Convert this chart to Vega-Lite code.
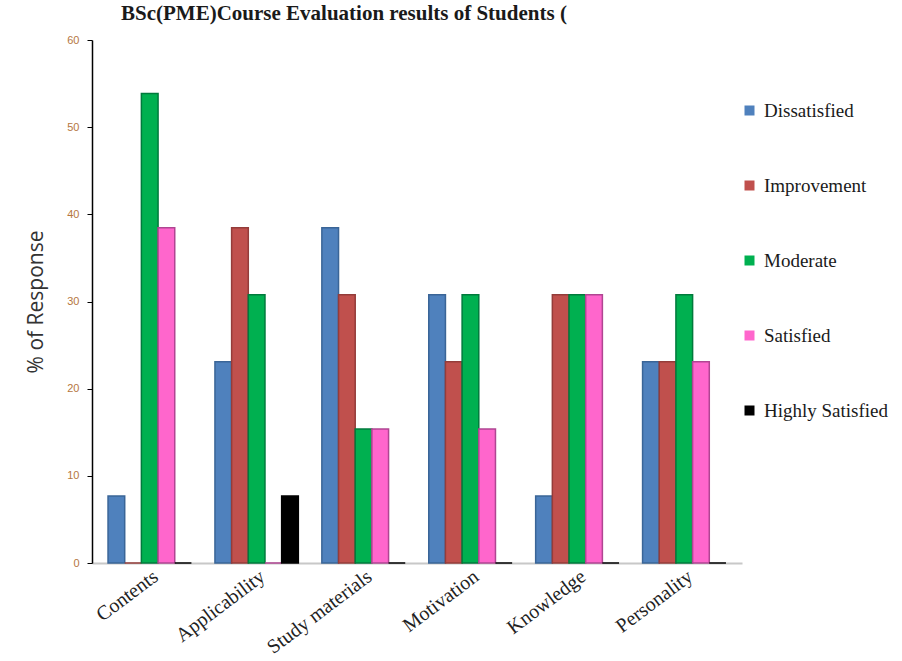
{
  "$schema": "https://vega.github.io/schema/vega-lite/v6.json",
  "width": 650,
  "height": 523,
  "padding": {"left": 25, "top": 3, "right": 5, "bottom": 2},
  "background": "white",
  "title": {
    "text": "BSc(PME)Course Evaluation  results of  Students (",
    "font": "Liberation Serif",
    "fontSize": 21,
    "fontWeight": "bold",
    "color": "#1a1a1a",
    "anchor": "start",
    "frame": "group",
    "dx": 29,
    "offset": 10
  },
  "data": {
    "values": [
      {"aspect": "Contents", "response": "Dissatisfied", "pct": 7.69},
      {"aspect": "Contents", "response": "Improvement", "pct": 0},
      {"aspect": "Contents", "response": "Moderate", "pct": 53.85},
      {"aspect": "Contents", "response": "Satisfied", "pct": 38.46},
      {"aspect": "Contents", "response": "Highly Satisfied", "pct": 0},
      {"aspect": "Applicability", "response": "Dissatisfied", "pct": 23.08},
      {"aspect": "Applicability", "response": "Improvement", "pct": 38.46},
      {"aspect": "Applicability", "response": "Moderate", "pct": 30.77},
      {"aspect": "Applicability", "response": "Satisfied", "pct": 0},
      {"aspect": "Applicability", "response": "Highly Satisfied", "pct": 7.69},
      {"aspect": "Study materials", "response": "Dissatisfied", "pct": 38.46},
      {"aspect": "Study materials", "response": "Improvement", "pct": 30.77},
      {"aspect": "Study materials", "response": "Moderate", "pct": 15.38},
      {"aspect": "Study materials", "response": "Satisfied", "pct": 15.38},
      {"aspect": "Study materials", "response": "Highly Satisfied", "pct": 0},
      {"aspect": "Motivation", "response": "Dissatisfied", "pct": 30.77},
      {"aspect": "Motivation", "response": "Improvement", "pct": 23.08},
      {"aspect": "Motivation", "response": "Moderate", "pct": 30.77},
      {"aspect": "Motivation", "response": "Satisfied", "pct": 15.38},
      {"aspect": "Motivation", "response": "Highly Satisfied", "pct": 0},
      {"aspect": "Knowledge", "response": "Dissatisfied", "pct": 7.69},
      {"aspect": "Knowledge", "response": "Improvement", "pct": 30.77},
      {"aspect": "Knowledge", "response": "Moderate", "pct": 30.77},
      {"aspect": "Knowledge", "response": "Satisfied", "pct": 30.77},
      {"aspect": "Knowledge", "response": "Highly Satisfied", "pct": 0},
      {"aspect": "Personality", "response": "Dissatisfied", "pct": 23.08},
      {"aspect": "Personality", "response": "Improvement", "pct": 23.08},
      {"aspect": "Personality", "response": "Moderate", "pct": 30.77},
      {"aspect": "Personality", "response": "Satisfied", "pct": 23.08},
      {"aspect": "Personality", "response": "Highly Satisfied", "pct": 0}
    ]
  },
  "mark": {"type": "bar", "strokeWidth": 1.5},
  "encoding": {
    "x": {
      "field": "aspect",
      "type": "nominal",
      "sort": ["Contents", "Applicability", "Study materials", "Motivation", "Knowledge", "Personality"],
      "scale": {"paddingInner": 0.22, "paddingOuter": 0.15},
      "axis": {
        "title": null,
        "labelAngle": -37,
        "labelFont": "Liberation Serif",
        "labelFontSize": 20,
        "labelColor": "#222222",
        "labelPadding": 3,
        "ticks": false,
        "domainColor": "#c8c8c8",
        "domainWidth": 2
      }
    },
    "xOffset": {
      "field": "response",
      "type": "nominal",
      "sort": ["Dissatisfied", "Improvement", "Moderate", "Satisfied", "Highly Satisfied"],
      "scale": {"paddingInner": 0}
    },
    "y": {
      "field": "pct",
      "type": "quantitative",
      "scale": {"domain": [0, 60]},
      "axis": {
        "title": "% of Response",
        "titleFont": "Open Sans",
        "titleFontSize": 21,
        "titleFontWeight": "normal",
        "titleColor": "#333333",
        "titlePadding": 20,
        "values": [0, 10, 20, 30, 40, 50, 60],
        "labelFont": "Liberation Sans",
        "labelFontSize": 11,
        "labelColor": "#b5763e",
        "labelPadding": 8,
        "grid": false,
        "domainColor": "#000000",
        "domainWidth": 1.5,
        "tickColor": "#000000",
        "tickSize": 5
      }
    },
    "color": {
      "field": "response",
      "type": "nominal",
      "sort": ["Dissatisfied", "Improvement", "Moderate", "Satisfied", "Highly Satisfied"],
      "scale": {
        "domain": ["Dissatisfied", "Improvement", "Moderate", "Satisfied", "Highly Satisfied"],
        "range": ["#4F81BD", "#C0504D", "#00B050", "#FF66CC", "#000000"]
      },
      "legend": {
        "title": null,
        "orient": "none",
        "legendX": 648,
        "legendY": 61,
        "symbolType": "square",
        "symbolSize": 100,
        "symbolStrokeWidth": 0,
        "labelFont": "Liberation Serif",
        "labelFontSize": 19,
        "labelColor": "#1a1a1a",
        "rowPadding": 55,
        "labelOffset": 5
      }
    },
    "stroke": {
      "field": "response",
      "type": "nominal",
      "scale": {
        "domain": ["Dissatisfied", "Improvement", "Moderate", "Satisfied", "Highly Satisfied"],
        "range": ["#3A6597", "#943C3A", "#007A3C", "#B04592", "#000000"]
      },
      "legend": null
    }
  },
  "config": {"view": {"stroke": null}}
}
